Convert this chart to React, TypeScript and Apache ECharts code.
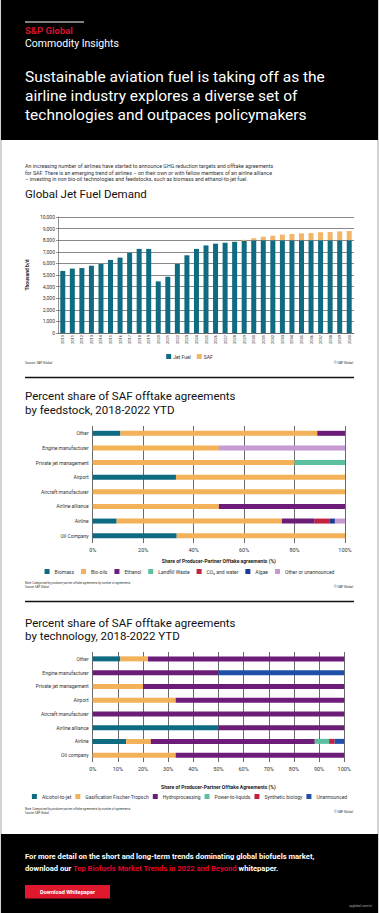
import React, { useEffect, useRef } from "react";
import * as echarts from "echarts";

// ---------- Data ----------
const years = [
  "2010", "2011", "2012", "2013", "2014", "2015", "2016", "2017", "2018", "2019",
  "2020", "2021", "2022", "2023", "2024", "2025", "2026", "2027", "2028", "2029",
  "2030", "2031", "2032", "2033", "2034", "2035", "2036", "2037", "2038", "2039", "2040",
];
const jetFuel = [
  5350, 5550, 5600, 5800, 5950, 6300, 6500, 6900, 7250, 7250,
  4450, 4850, 5950, 6700, 7250, 7550, 7700, 7780, 7850, 7950,
  8000, 8000, 8000, 8000, 8000, 8000, 8000, 8000, 8000, 8000, 8000,
];
const saf = [
  0, 0, 0, 0, 0, 0, 0, 0, 0, 0,
  0, 0, 0, 0, 0, 0, 0, 10, 30, 80,
  160, 300, 390, 480, 530, 590, 620, 680, 700, 760, 790,
];

const feedCategories = [
  "Other", "Engine manufacturer", "Private jet management", "Airport",
  "Aircraft manufacturer", "Airline alliance", "Airline", "Oil Company",
];
const biomass = [11, 0, 0, 33, 0, 0, 9.5, 33.3];
const bioOils = [78, 50, 80, 67, 100, 50, 65.5, 66.7];
const ethanol = [11, 0, 0, 0, 0, 50, 13, 0];
const landfillWaste = [0, 0, 20, 0, 0, 0, 0, 0];
const co2Water = [0, 0, 0, 0, 0, 0, 6, 0];
const algae = [0, 0, 0, 0, 0, 0, 2, 0];
const otherUnannounced = [0, 50, 0, 0, 0, 0, 4, 0];

const techCategories = [
  "Other", "Engine manufacturer", "Private jet management", "Airport",
  "Aircraft manufacturer", "Airline alliance", "Airline", "Oil company",
];
const alcoholToJet = [11, 0, 0, 0, 0, 50, 13.3, 0];
const gasificationFT = [11, 0, 20, 33, 0, 0, 9.8, 33];
const hydroprocessing = [78, 50, 80, 67, 100, 50, 65.2, 67];
const powerToLiquids = [0, 0, 0, 0, 0, 0, 5.7, 0];
const syntheticBiology = [0, 0, 0, 0, 0, 0, 2.2, 0];
const unannounced = [0, 50, 0, 0, 0, 0, 3.8, 0];

// ---------- Styles ----------
const FONT = "Roboto, 'Noto Sans', sans-serif";
const TEAL = "#0e6b81";
const ORANGE = "#f3b15a";
const PURPLE = "#6c1d78";
const LILAC = "#c49ad0";
const GREEN = "#5cbf9f";
const RED = "#c4213f";
const NAVY = "#1d3a94";
const BLUE = "#1f4fa8";

function txt(x: number, y: number, text: string, size: number, fill: string, extra: any = {}) {
  return {
    type: "text",
    x,
    y,
    silent: true,
    style: {
      text,
      fill,
      fontSize: size,
      fontFamily: FONT,
      verticalAlign: "middle",
      align: "left",
      ...extra,
    },
  };
}

function hBar(name: string, data: number[], color: string, axisIdx: number) {
  return {
    name,
    type: "bar",
    stack: "s" + axisIdx,
    xAxisIndex: axisIdx,
    yAxisIndex: axisIdx,
    barWidth: 5,
    itemStyle: { color },
    data,
  };
}

export default function App() {
  const ref = useRef<HTMLDivElement>(null);

  useEffect(() => {
    if (!ref.current) return;
    const chart = echarts.init(ref.current, null, { renderer: "svg" });

    const graphics: any[] = [
      { type: "rect", shape: { x: 0, y: 0, width: 379, height: 913 }, style: { fill: "#d2d2d2" }, z: -10 },
      { type: "rect", shape: { x: 2, y: 140, width: 375, height: 694 }, style: { fill: "#ffffff" }, z: -9 },
      { type: "rect", shape: { x: 1, y: 0, width: 377, height: 140 }, style: { fill: "#000000" }, z: -9 },
      { type: "rect", shape: { x: 1, y: 834, width: 377, height: 79 }, style: { fill: "#000000" }, z: -9 },
      { type: "line", shape: { x1: 25, y1: 22, x2: 84, y2: 22 }, style: { stroke: "#ffffff", lineWidth: 1 } },
      txt(25, 30.5, "S&P Global", 9.5, "#d6102f", { fontWeight: "bold" }),
      txt(25, 43.5, "Commodity Insights", 10.5, "#ffffff"),
      txt(25, 77, "Sustainable aviation fuel is taking off as the", 15.5, "#ffffff"),
      txt(25, 96, "airline industry explores a diverse set of", 15.5, "#ffffff"),
      txt(25, 115, "technologies and outpaces policymakers", 15.5, "#ffffff"),
      txt(25, 166, "An increasing number of airlines have started to announce GHG reduction targets and offtake agreements", 5.3, "#333333"),
      txt(25, 172.6, "for SAF. There is an emerging trend of airlines \u2013 on their own or with fellow members of an airline alliance", 5.3, "#333333"),
      txt(25, 179.2, "\u2013 investing in non bio-oil technologies and feedstocks, such as biomass and ethanol-to-jet fuel.", 5.3, "#333333"),
      txt(25, 194, "Global Jet Fuel Demand", 11.5, "#111111"),
      txt(25, 363, "Source: S&P Global", 3.2, "#333333"),
      txt(353, 363, "\u00a9 S&P Global", 3.2, "#333333", { align: "right" }),
      { type: "line", shape: { x1: 25, y1: 377.5, x2: 354, y2: 377.5 }, style: { stroke: "#111111", lineWidth: 1.5 } },
      txt(25, 396, "Percent share of SAF offtake agreements", 11.5, "#111111"),
      txt(25, 409.5, "by feedstock, 2018-2022 YTD", 11.5, "#111111"),
      txt(25, 583, "Note: Categorized by producer-partner offtake agreements by number of agreements.", 2.8, "#333333"),
      txt(25, 586.5, "Source: S&P Global", 2.8, "#333333"),
      txt(353, 587, "\u00a9 S&P Global", 3.2, "#333333", { align: "right" }),
      { type: "line", shape: { x1: 25, y1: 601.5, x2: 354, y2: 601.5 }, style: { stroke: "#111111", lineWidth: 1.5 } },
      txt(25, 623, "Percent share of SAF offtake agreements", 11.5, "#111111"),
      txt(25, 636, "by technology, 2018-2022 YTD", 11.5, "#111111"),
      txt(25, 809, "Note: Categorized by producer-partner offtake agreements by number of agreements.", 2.8, "#333333"),
      txt(25, 812.5, "Source: S&P Global", 2.8, "#333333"),
      txt(353, 812, "\u00a9 S&P Global", 3.2, "#333333", { align: "right" }),
      txt(25, 856, "For more detail on the short and long-term trends dominating global biofuels market,", 7.6, "#ffffff", { fontWeight: "bold" }),
      {
        type: "text",
        x: 25,
        y: 868.5,
        silent: true,
        style: {
          text: "{w|download our }{r|Top Biofuels Market Trends in 2022 and Beyond}{w| whitepaper.}",
          fontSize: 7.6,
          fontFamily: FONT,
          fontWeight: "bold",
          verticalAlign: "middle",
          align: "left",
          rich: {
            w: { fill: "#ffffff", fontSize: 7.6, fontFamily: FONT, fontWeight: "bold" },
            r: { fill: "#e4002b", fontSize: 7.6, fontFamily: FONT, fontWeight: "bold" },
          },
        },
      },
      { type: "rect", shape: { x: 25, y: 885, width: 85, height: 13.5 }, style: { fill: "#e0182d" } },
      txt(67.5, 891.8, "Download Whitepaper", 5.6, "#ffffff", { fontWeight: "bold", align: "center" }),
      txt(372, 906, "spglobal.com/ci", 3.2, "#aaaaaa", { align: "right" }),
    ];

    const catAxisLabel = { fontSize: 5, color: "#333", fontFamily: FONT, margin: 4 };

    const option: any = {
      animation: false,
      textStyle: { fontFamily: FONT },
      graphic: graphics,
      grid: [
        { left: 58, top: 217, width: 296, height: 116 },
        { left: 92.7, top: 426, width: 252.3, height: 117 },
        { left: 92.7, top: 652, width: 251.5, height: 110 },
      ],
      legend: [
        {
          data: ["Jet Fuel", "SAF"],
          top: 354,
          left: "center",
          itemWidth: 5,
          itemHeight: 5,
          itemGap: 6,
          padding: 0,
          icon: "rect",
          textStyle: { fontSize: 5, color: "#333", fontFamily: FONT, padding: [0, 0, 0, -3] },
        },
        {
          data: ["Biomass", "Bio-oils", "Ethanol", "Landfill Waste", "CO\u2082 and water", "Algae", "Other or unannounced"],
          top: 569,
          left: "center",
          itemWidth: 5,
          itemHeight: 5,
          itemGap: 7,
          padding: 0,
          icon: "rect",
          textStyle: { fontSize: 5, color: "#333", fontFamily: FONT },
        },
        {
          data: ["Alcohol-to-jet", "Gasification Fischer-Tropsch", "Hydroprocessing", "Power-to-liquids", "Synthetic biology", "Unannounced"],
          top: 794,
          left: "center",
          itemWidth: 5,
          itemHeight: 5,
          itemGap: 4,
          padding: 0,
          icon: "rect",
          textStyle: { fontSize: 5, color: "#333", fontFamily: FONT },
        },
      ],
      xAxis: [
        {
          type: "category",
          gridIndex: 0,
          data: years,
          axisLine: { show: true, lineStyle: { color: "#666", width: 0.7 } },
          axisTick: { show: false },
          axisLabel: { rotate: 90, fontSize: 4, color: "#333", interval: 0, margin: 2 },
        },
        {
          type: "value",
          gridIndex: 1,
          min: 0,
          max: 100,
          interval: 20,
          axisLine: { show: false },
          axisTick: { show: false },
          axisLabel: { formatter: "{value}%", fontSize: 5.5, color: "#333", margin: 4 },
          splitLine: { show: true, lineStyle: { color: "#444", width: 0.8 } },
          name: "Share of Producer-Partner Offtake agreements (%)",
          nameLocation: "middle",
          nameGap: 15,
          nameTextStyle: { fontSize: 5, fontWeight: "bold", color: "#222" },
        },
        {
          type: "value",
          gridIndex: 2,
          min: 0,
          max: 100,
          interval: 10,
          axisLine: { show: false },
          axisTick: { show: false },
          axisLabel: { formatter: "{value}%", fontSize: 5.5, color: "#333", margin: 4 },
          splitLine: { show: true, lineStyle: { color: "#444", width: 0.8 } },
          name: "Share of Producer-Partner Offtake Agreements (%)",
          nameLocation: "middle",
          nameGap: 22,
          nameTextStyle: { fontSize: 5, fontWeight: "bold", color: "#222" },
        },
      ],
      yAxis: [
        {
          type: "value",
          gridIndex: 0,
          min: 0,
          max: 10000,
          interval: 1000,
          axisLine: { show: true, lineStyle: { color: "#666", width: 0.7 } },
          axisTick: { show: true, length: 2, lineStyle: { color: "#666", width: 0.7 } },
          axisLabel: {
            fontSize: 5,
            color: "#333",
            margin: 3,
            formatter: (v: number) => v.toLocaleString("en-US"),
          },
          splitLine: { show: true, lineStyle: { color: "#555", width: 0.7 } },
          name: "Thousand b/d",
          nameLocation: "middle",
          nameRotate: 90,
          nameGap: 24,
          nameTextStyle: { fontSize: 5, fontWeight: "bold", color: "#222" },
        },
        {
          type: "category",
          gridIndex: 1,
          data: feedCategories,
          inverse: true,
          axisLine: { show: false },
          axisTick: { show: false },
          axisLabel: catAxisLabel,
        },
        {
          type: "category",
          gridIndex: 2,
          data: techCategories,
          inverse: true,
          axisLine: { show: false },
          axisTick: { show: false },
          axisLabel: catAxisLabel,
        },
      ],
      series: [
        { name: "Jet Fuel", type: "bar", stack: "demand", xAxisIndex: 0, yAxisIndex: 0, barWidth: 5, itemStyle: { color: TEAL }, data: jetFuel },
        { name: "SAF", type: "bar", stack: "demand", xAxisIndex: 0, yAxisIndex: 0, barWidth: 5, itemStyle: { color: "#f3b568" }, data: saf },
        hBar("Biomass", biomass, TEAL, 1),
        hBar("Bio-oils", bioOils, ORANGE, 1),
        hBar("Ethanol", ethanol, PURPLE, 1),
        hBar("Landfill Waste", landfillWaste, GREEN, 1),
        hBar("CO\u2082 and water", co2Water, RED, 1),
        hBar("Algae", algae, NAVY, 1),
        hBar("Other or unannounced", otherUnannounced, LILAC, 1),
        hBar("Alcohol-to-jet", alcoholToJet, TEAL, 2),
        hBar("Gasification Fischer-Tropsch", gasificationFT, ORANGE, 2),
        hBar("Hydroprocessing", hydroprocessing, PURPLE, 2),
        hBar("Power-to-liquids", powerToLiquids, GREEN, 2),
        hBar("Synthetic biology", syntheticBiology, RED, 2),
        hBar("Unannounced", unannounced, BLUE, 2),
      ],
    };

    chart.setOption(option);
    return () => chart.dispose();
  }, []);

  return (
    <div
      ref={ref}
      style={{ position: "absolute", left: 0, top: 0, width: 379, height: 913 }}
    />
  );
}
